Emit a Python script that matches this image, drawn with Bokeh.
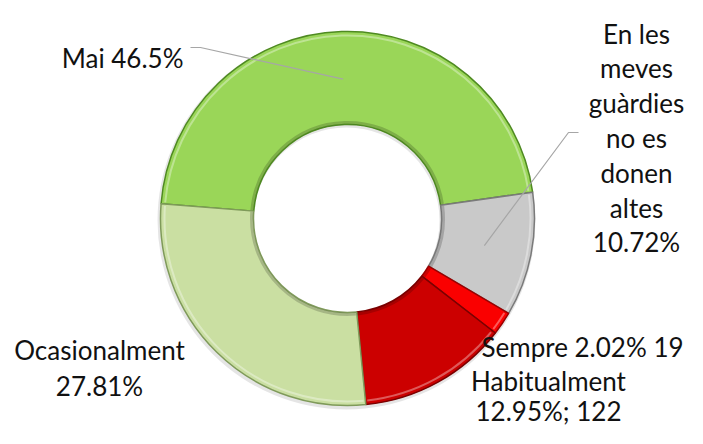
import math
from bokeh.plotting import figure
from bokeh.models import Range1d
from bokeh.core.properties import value
from bokeh.embed import file_html
from bokeh.resources import INLINE

# ---- data ----
categories = ["Mai", "En les meves guàrdies no es donen altes", "Sempre", "Habitualment", "Ocasionalment"]
percents = [46.5, 10.72, 2.02, 12.95, 27.81]
label_lines = [
    ["Mai 46.5%"],
    ["En les", "meves", "guàrdies", "no es", "donen", "altes", "10.72%"],
    ["Sempre 2.02% 19"],
    ["Habitualment", "12.95%; 122"],
    ["Ocasionalment", "27.81%"],
]
colors = ["#9AD658", "#C9C9C9", "#FA0000", "#CC0000", "#CADFA2"]
edge_colors = ["#4F8A22", "#7A7A7A", "#9A0000", "#7A0000", "#7F9A5A"]

# ---- layout (reference pixel coordinates; y is flipped below) ----
CX, CY = 347, 218
R_IN, R_OUT = 94, 187
FIRST_ANGLE = 175.5  # degrees, first slice start, going clockwise

def Y(py):
    return -py

p = figure(width=687, height=428, output_backend="svg", toolbar_location=None,
           x_range=Range1d(0, 687), y_range=Range1d(-428, 0),
           x_axis_location=None, y_axis_location=None, min_border=0)
p.grid.visible = False
p.outline_line_color = None
p.background_fill_color = "white"
p.border_fill_color = "white"

starts, ends, mids = [], [], []
a = FIRST_ANGLE
for v in percents:
    s = a
    a -= v * 3.6
    starts.append(math.radians(s))
    ends.append(math.radians(a))
    mids.append(math.radians((s + a) / 2))

# soft shadow
p.annular_wedge(x=CX - 1, y=Y(CY) - 2, inner_radius=R_IN - 1, outer_radius=R_OUT + 2,
                start_angle=0, end_angle=2 * math.pi, fill_color="#000000", fill_alpha=0.10,
                line_color=None)

p.annular_wedge(x=CX, y=Y(CY), inner_radius=R_IN, outer_radius=R_OUT,
                start_angle=starts, end_angle=ends, direction="clock",
                fill_color=colors, line_color=edge_colors, line_width=1.5)

# bevel-like highlight and inner shading
p.arc(x=CX, y=Y(CY), radius=R_OUT - 4, start_angle=[s - 0.01 for s in starts],
      end_angle=[e + 0.01 for e in ends], direction="clock",
      line_color="white", line_alpha=0.35, line_width=2)
p.arc(x=CX, y=Y(CY), radius=R_IN + 2, start_angle=[s - 0.01 for s in starts],
      end_angle=[e + 0.01 for e in ends], direction="clock",
      line_color="black", line_alpha=0.18, line_width=3)

# leader lines
leaders = {0: [(190, 47), (200, 47)], 1: [(578, 132), (568, 132)]}
r_mid = (R_IN + R_OUT) / 2 - 1
for i, pts in leaders.items():
    ex = CX + r_mid * math.cos(mids[i])
    ey = Y(CY) + r_mid * math.sin(mids[i])
    xs = [pt[0] for pt in pts] + [ex]
    ys = [Y(pt[1]) for pt in pts] + [ey]
    p.line(xs, ys, line_color="#A6A6A6", line_width=1.2)

# labels: anchor x, first baseline, align, line spacing
label_pos = [
    (183, 57, "right", 35),
    (636, 33, "center", 34.8),
    (481, 346, "left", 35),
    (548, 380, "center", 30),
    (99, 349, "center", 36),
]
tx, ty, tt, ta = [], [], [], []
for lines, (x0, y0, al, sp) in zip(label_lines, label_pos):
    for k, ln in enumerate(lines):
        tx.append(x0)
        ty.append(Y(y0 + k * sp))
        tt.append(ln)
        ta.append(al)
p.text(x=tx, y=ty, text=tt, text_align=ta, text_baseline="alphabetic",
       text_font=value("Lato"), text_font_size="26px", text_color="#111111")

open("out.html", "w").write(file_html(p, INLINE))
